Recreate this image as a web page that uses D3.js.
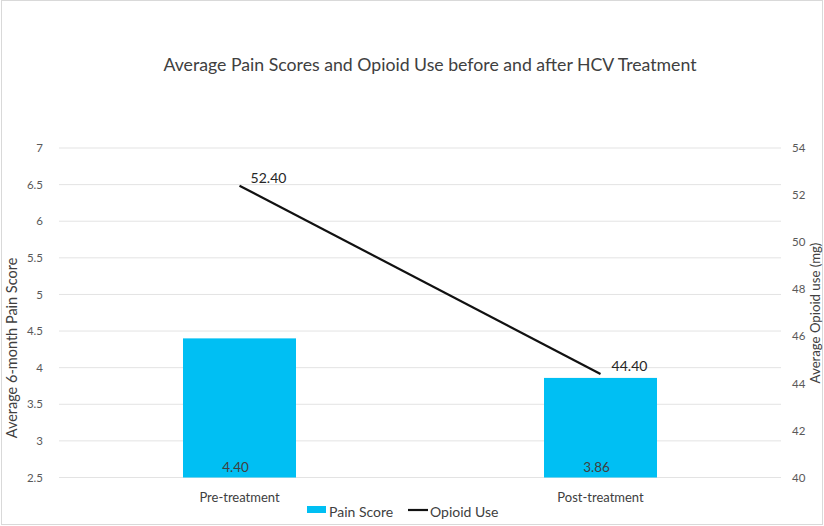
<!DOCTYPE html>
<html><head><meta charset="utf-8">
<script src="https://cdn.jsdelivr.net/npm/d3@7"></script>
<style>body{margin:0;background:#fff;} text{font-family:Lato,"Open Sans",sans-serif;}</style>
</head><body><svg id="c" width="824" height="526"></svg>
<script>
const categories = ["Pre-treatment", "Post-treatment"];
const painScore = [4.40, 3.86];
const opioidUse = [52.40, 44.40];
const leftTicks = [2.5, 3, 3.5, 4, 4.5, 5, 5.5, 6, 6.5, 7];
const rightTicks = [40, 42, 44, 46, 48, 50, 52, 54];

const svg = d3.select("#c");
svg.append("rect").attr("x",1.5).attr("y",0.5).attr("width",821).attr("height",524)
  .attr("fill","#fff").attr("stroke","#d9d9d9");

const L = 59, R = 781, T = 148, B = 477.5;
const x = d3.scaleBand().domain(categories).range([L, R]);
const yL = d3.scaleLinear().domain([2.5, 7]).range([B, T]);
const yR = d3.scaleLinear().domain([40, 54]).range([B, T]);

// gridlines
svg.append("g").selectAll("line").data(leftTicks).join("line")
  .attr("x1", L).attr("x2", R).attr("y1", d=>yL(d)).attr("y2", d=>yL(d))
  .attr("stroke", "#e3e3e3").attr("stroke-width", 1);

// left axis
const ga = svg.append("g").attr("transform", `translate(${L-13},0)`)
  .call(d3.axisLeft(yL).tickValues(leftTicks).tickSize(0).tickFormat(d=>String(d)));
ga.select(".domain").remove();
ga.selectAll("text").attr("fill","#595959").style("font-size","11.5px").style("font-family","Lato, sans-serif");

// right axis
const gr = svg.append("g").attr("transform", `translate(${R},0)`)
  .call(d3.axisRight(yR).tickValues(rightTicks).tickSize(0).tickPadding(11).tickFormat(d=>String(d)));
gr.select(".domain").remove();
gr.selectAll("text").attr("fill","#595959").style("font-size","11.5px").style("font-family","Lato, sans-serif");

// bars
const bw = 113;
svg.append("g").selectAll("rect").data(categories).join("rect")
  .attr("x", d => x(d) + x.bandwidth()/2 - bw/2)
  .attr("width", bw)
  .attr("y", (d,i) => yL(painScore[i]))
  .attr("height", (d,i) => B - yL(painScore[i]))
  .attr("fill", "#00bff3");

// bar labels
svg.append("g").selectAll("text").data(categories).join("text")
  .attr("x", d => x(d) + x.bandwidth()/2 - 4)
  .attr("y", B - 6)
  .attr("text-anchor","middle").attr("fill","#404040").style("font-size","13.5px")
  .text((d,i) => painScore[i].toFixed(2));

// line
const line = d3.line().x((d,i)=>x(categories[i]) + x.bandwidth()/2).y(d=>yR(d));
svg.append("path").datum(opioidUse).attr("d", line)
  .attr("fill","none").attr("stroke","#111").attr("stroke-width",2.2);

svg.append("g").selectAll("text").data(opioidUse).join("text")
  .attr("x", (d,i)=> x(categories[i]) + x.bandwidth()/2 + 29)
  .attr("y", d => yR(d) - 3)
  .attr("text-anchor","middle").attr("fill","#262626").style("font-size","14px")
  .text(d => d.toFixed(2));

// category labels
svg.append("g").selectAll("text").data(categories).join("text")
  .attr("x", d => x(d) + x.bandwidth()/2)
  .attr("y", 502)
  .attr("text-anchor","middle").attr("fill","#404040").style("font-size","13px")
  .text(d=>d);

// title
svg.append("text").attr("x", 430).attr("y", 71).attr("text-anchor","middle")
  .attr("fill","#404040").style("font-size","17.7px").text("Average Pain Scores and Opioid Use before and after HCV Treatment");

// axis titles
svg.append("text").attr("transform","translate(17,348) rotate(-90)").attr("text-anchor","middle")
  .attr("fill","#404040").style("font-size","14.5px").text("Average 6-month Pain Score");
svg.append("text").attr("transform","translate(820,313) rotate(-90)").attr("text-anchor","middle")
  .attr("fill","#404040").style("font-size","13.2px").text("Average Opioid use (mg)");

// legend
const lg = svg.append("g");
lg.append("rect").attr("x",307).attr("y",506).attr("width",19).attr("height",7).attr("fill","#00bff3");
lg.append("text").attr("x",329).attr("y",517).attr("fill","#404040").style("font-size","14px").text("Pain Score");
lg.append("line").attr("x1",408).attr("x2",428).attr("y1",510).attr("y2",510).attr("stroke","#111").attr("stroke-width",2.2);
lg.append("text").attr("x",430).attr("y",517).attr("fill","#404040").style("font-size","14px").text("Opioid Use");
</script></body></html>
